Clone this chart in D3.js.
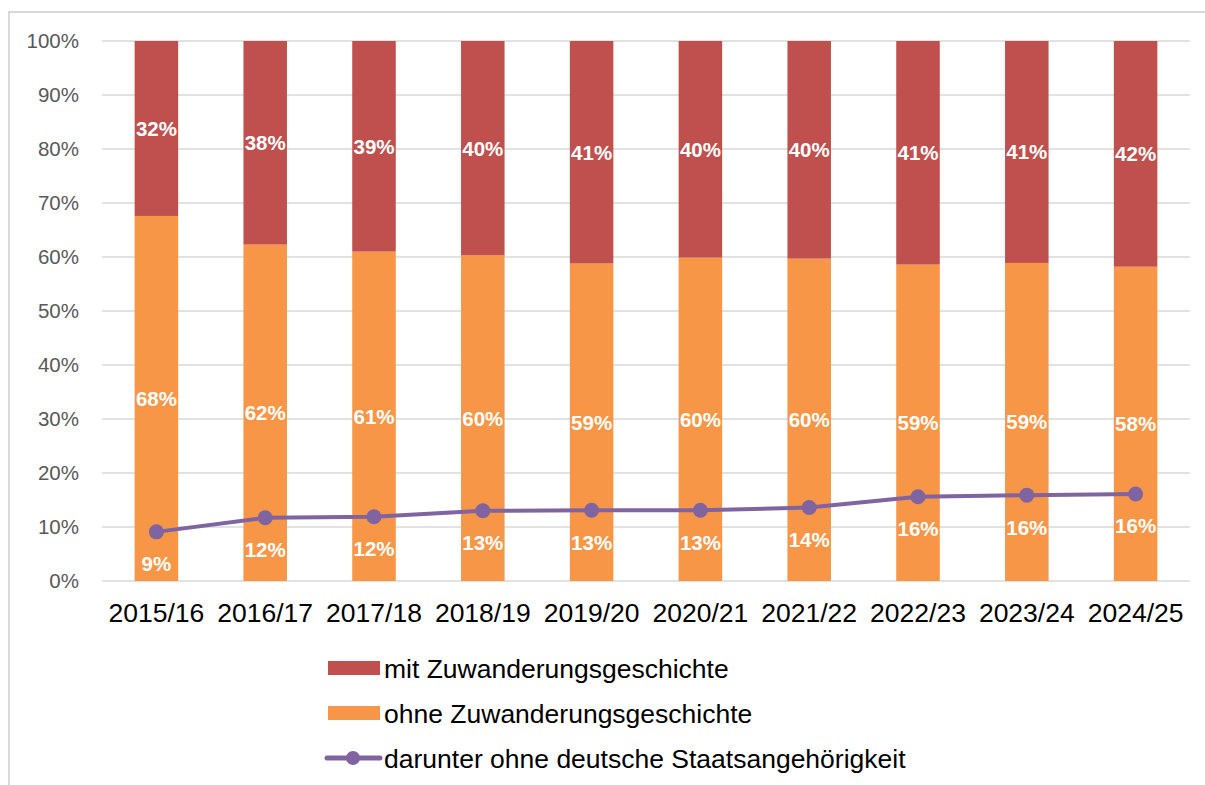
<!DOCTYPE html>
<meta charset="utf-8">
<script src="https://d3js.org/d3.v7.min.js"></script>
<style>
body { margin: 0; background: #fff; }
</style>
<div id="chart"></div>
<script>

// data (shares in percent)
var years = ["2015/16", "2016/17", "2017/18", "2018/19", "2019/20", "2020/21", "2021/22", "2022/23", "2023/24", "2024/25"];
var ohne = [67.6, 62.3, 61.0, 60.3, 58.8, 59.9, 59.7, 58.6, 58.9, 58.2];
var mit = [32.4, 37.7, 39.0, 39.7, 41.2, 40.1, 40.3, 41.4, 41.1, 41.8];
var ohneDeutsch = [9.1, 11.7, 11.9, 13.0, 13.1, 13.1, 13.6, 15.6, 15.9, 16.1];
var yTicks = [0, 10, 20, 30, 40, 50, 60, 70, 80, 90, 100];
var legendNames = ["mit Zuwanderungsgeschichte", "ohne Zuwanderungsgeschichte", "darunter ohne deutsche Staatsangehörigkeit"];

var red = "#C0504D", orange = "#F79646", purple = "#8064A2";

var W = 1205, H = 785;
var svg = d3.select("#chart").append("svg")
  .attr("width", W)
  .attr("height", H)
  .style("font-family", "'Liberation Sans', Arial, sans-serif");

// chart border (only top and left are visible in the picture)
svg.append("path")
  .attr("d", "M9,790 L9,12 L1210,12")
  .attr("fill", "none")
  .attr("stroke", "#D9D9D9")
  .attr("stroke-width", 2);

var x = d3.scaleBand()
  .domain(years)
  .range([102, 1190])
  .paddingInner(0.6)
  .paddingOuter(0.3);

var y = d3.scaleLinear()
  .domain([0, 100])
  .range([581, 41]);

// gridlines
svg.append("g")
  .selectAll("line")
  .data(yTicks)
  .enter()
  .append("line")
    .attr("x1", 102)
    .attr("x2", 1190)
    .attr("y1", function(d) { return y(d); })
    .attr("y2", function(d) { return y(d); })
    .attr("stroke", "#D9D9D9")
    .attr("stroke-width", 1.5);

// y axis labels
svg.append("g")
  .selectAll("text")
  .data(yTicks)
  .enter()
  .append("text")
    .attr("x", 79)
    .attr("y", function(d) { return y(d); })
    .attr("dy", "0.36em")
    .attr("text-anchor", "end")
    .attr("fill", "#595959")
    .style("font-size", "20.5px")
    .text(function(d) { return d + "%"; });

// x axis labels
svg.append("g")
  .selectAll("text")
  .data(years)
  .enter()
  .append("text")
    .attr("x", function(d) { return x(d) + x.bandwidth() / 2; })
    .attr("y", 622)
    .attr("text-anchor", "middle")
    .attr("fill", "#000")
    .style("font-size", "26.5px")
    .text(function(d) { return d; });

// stacked bars
var rows = years.map(function(yr, i) { return { year: yr, ohne: ohne[i], mit: mit[i], line: ohneDeutsch[i] }; });

svg.append("g")
  .selectAll("rect")
  .data(rows)
  .enter()
  .append("rect")
    .attr("x", function(d) { return x(d.year); })
    .attr("width", x.bandwidth())
    .attr("y", function(d) { return y(d.ohne); })
    .attr("height", function(d) { return y(0) - y(d.ohne); })
    .attr("fill", orange);

svg.append("g")
  .selectAll("rect")
  .data(rows)
  .enter()
  .append("rect")
    .attr("x", function(d) { return x(d.year); })
    .attr("width", x.bandwidth())
    .attr("y", function(d) { return y(d.ohne + d.mit); })
    .attr("height", function(d) { return y(d.ohne) - y(d.ohne + d.mit); })
    .attr("fill", red);

// bar labels
function barLabel(yPos, val) {
  svg.append("g")
    .selectAll("text")
    .data(rows)
    .enter()
    .append("text")
      .attr("x", function(d) { return x(d.year) + x.bandwidth() / 2; })
      .attr("y", yPos)
      .attr("dy", "0.36em")
      .attr("text-anchor", "middle")
      .attr("fill", "#fff")
      .style("font-size", "20.5px")
      .style("font-weight", "bold")
      .text(function(d) { return Math.round(val(d)) + "%"; });
}
barLabel(function(d) { return (y(0) + y(d.ohne)) / 2; }, function(d) { return d.ohne; });
barLabel(function(d) { return (y(d.ohne) + y(d.ohne + d.mit)) / 2; }, function(d) { return d.mit; });

// line
var line = d3.line()
  .x(function(d) { return x(d.year) + x.bandwidth() / 2; })
  .y(function(d) { return y(d.line); });

svg.append("path")
  .datum(rows)
  .attr("d", line)
  .attr("fill", "none")
  .attr("stroke", purple)
  .attr("stroke-width", 4)
  .attr("stroke-linejoin", "round");

svg.append("g")
  .selectAll("circle")
  .data(rows)
  .enter()
  .append("circle")
    .attr("cx", function(d) { return x(d.year) + x.bandwidth() / 2; })
    .attr("cy", function(d) { return y(d.line); })
    .attr("r", 7.5)
    .attr("fill", purple);

barLabel(function(d) { return y(d.line) + 32; }, function(d) { return d.line; });

// legend
var lg = svg.append("g");
var rowsY = [668, 713, 758];

lg.append("rect").attr("x", 328).attr("y", rowsY[0] - 7).attr("width", 52).attr("height", 14).attr("fill", red);
lg.append("rect").attr("x", 328).attr("y", rowsY[1] - 7).attr("width", 52).attr("height", 14).attr("fill", orange);
lg.append("line").attr("x1", 327).attr("x2", 380).attr("y1", rowsY[2]).attr("y2", rowsY[2])
  .attr("stroke", purple).attr("stroke-width", 5).attr("stroke-linecap", "round");
lg.append("circle").attr("cx", 353).attr("cy", rowsY[2]).attr("r", 7).attr("fill", purple);

lg.selectAll("text")
  .data(legendNames)
  .enter()
  .append("text")
    .attr("x", 384)
    .attr("y", function(d, i) { return rowsY[i]; })
    .attr("dy", "0.36em")
    .attr("fill", "#000")
    .style("font-size", "26.5px")
    .text(function(d) { return d; });

</script>
